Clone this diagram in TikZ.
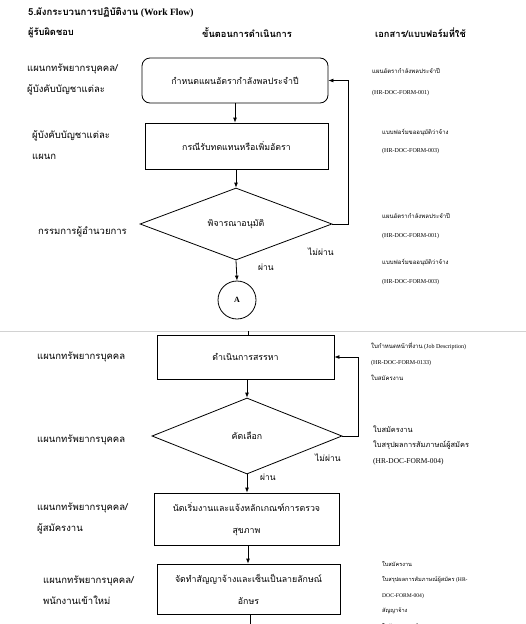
\documentclass[tikz,border=0pt]{standalone}
\usepackage{fontspec}
\setmainfont{Liberation Serif}
\newfontfamily\thaifont[Script=Thai]{Loma}
\newcommand{\thai}[1]{{\thaifont #1}}
\usetikzlibrary{arrows.meta,positioning,shapes.geometric}

\begin{document}
\begin{tikzpicture}[x=1pt, y=-1pt,
  every node/.style={inner sep=0pt},
  stepbox/.style={draw, line width=0.8pt, align=center, font=\thaifont\fontsize{8.8}{22}\selectfont},
  planbox/.style={stepbox, rounded corners=8pt},
  choice/.style={stepbox, diamond},
  joint/.style={draw, circle, line width=0.8pt, minimum size=38pt, font=\bfseries\fontsize{8}{8}\selectfont},
  owner/.style={anchor=west, align=left, font=\thaifont\fontsize{9.5}{21}\selectfont},
  docs/.style={anchor=west, align=left, font=\fontsize{6}{19}\selectfont},
  head/.style={anchor=west, font=\bfseries\fontsize{9.3}{10}\selectfont},
  note/.style={anchor=west, font=\thaifont\fontsize{8.5}{10}\selectfont},
  flow/.style={line width=0.8pt, -{Latex[length=5pt,width=4pt]}}
]
\useasboundingbox (0,0) rectangle (526,624);
\clip (0,0) rectangle (526,624);

% heading and column titles
\node[head, font=\bfseries\fontsize{9.6}{10}\selectfont] (title) at (28,13) {\thai{5.ผังกระบวนการปฏิบัติงาน} (Work Flow)};
\node[head] (hOwner) at (28,33) {\thai{ผู้รับผิดชอบ}};
\node[head] (hStep)  at (202,33) {\thai{ขั้นตอนการดำเนินการ}};
\node[head] (hDocs)  at (375,33) {\thai{เอกสาร/แบบฟอร์มที่ใช้}};

% page 1 - flow column
\node[planbox, minimum width=186pt, minimum height=45pt] (plan) at (235,80.5) {กำหนดแผนอัตรากำลังพลประจำปี};
\node[stepbox, minimum width=183pt, minimum height=46pt] (repl) at (236.5,146) {กรณีรับทดแทนหรือเพิ่มอัตรา};
\node[choice, minimum width=192pt, minimum height=72pt] (appr) at (236,224) {พิจารณาอนุมัติ};
\node[joint] (conA) at (237,300) {A};

\draw[flow] (plan.south) -- (plan.south |- repl.north);
\draw[flow] (repl.south -| appr.north) -- (appr.north);
\draw[flow] (appr.east) -- ++(16,0) |- (plan.east);
\draw[flow] (appr.south) -- (conA.north);
\node[note] (noA) at (308,252) {ไม่ผ่าน};
\node[note] (okA) at (258,267) {ผ่าน};

% page 1 - owners
\node[owner] (oPlan) at (27,79.5) {แผนกทรัพยากรบุคคล/\\ผู้บังคับบัญชาแต่ละ};
\node[owner] (oRepl) at (32,145) {ผู้บังคับบัญชาแต่ละ\\แผนก};
\node[owner] (oAppr) at (38,232) {กรรมการผู้อำนวยการ};

% page 1 - documents
\node[docs, font=\fontsize{6}{21}\selectfont] (dPlan) at (372,82.5) {\thai{แผนอัตรากำลังพลประจำปี}\\(HR-DOC-FORM-001)};
\node[docs, font=\fontsize{6}{18}\selectfont] (dRepl) at (382,141.5) {\thai{แบบฟอร์มขออนุมัติว่าจ้าง}\\(HR-DOC-FORM-003)};
\node[docs] (dAppr1) at (382,226.5) {\thai{แผนอัตรากำลังพลประจำปี}\\(HR-DOC-FORM-001)};
\node[docs] (dAppr2) at (382,272.5) {\thai{แบบฟอร์มขออนุมัติว่าจ้าง}\\(HR-DOC-FORM-003)};

% page break
\draw[gray!35, line width=1pt] (0,331) -- (526,331);

% page 2 - flow column
\coordinate (pgtop) at (248,331);
\node[stepbox, minimum width=177pt, minimum height=44pt] (recruit) at (245.5,357) {ดำเนินการสรรหา};
\node[choice, minimum width=190pt, minimum height=76pt] (select) at (247,436) {คัดเลือก};
\node[stepbox, minimum width=185pt, minimum height=52pt] (appoint) at (246.5,519) {นัดเริ่มงานและแจ้งหลักเกณฑ์การตรวจ\\สุขภาพ};
\node[stepbox, minimum width=183pt, minimum height=50pt] (contract) at (248.5,589) {จัดทำสัญญาจ้างและเซ็นเป็นลายลักษณ์\\อักษร};
\coordinate (pgend) at (250,630);

\draw[line width=0.8pt] (pgtop) -- (pgtop |- recruit.north);
\draw[flow] (select.north |- recruit.south) -- (select.north);
\draw[flow] (select.east) -- ++(16,0) |- (recruit.east);
\draw[flow] (select.south) -- (select.south |- appoint.north);
\draw[flow] (appoint.south -| pgtop) -- (pgtop |- contract.north);
\draw[line width=0.8pt] (contract.south -| pgend) -- (pgend);
\node[note] (noB) at (315,458) {ไม่ผ่าน};
\node[note] (okB) at (260,477) {ผ่าน};

% page 2 - owners
\node[owner] (oRecruit) at (37,357) {แผนกทรัพยากรบุคคล};
\node[owner] (oSelect) at (37,440) {แผนกทรัพยากรบุคคล};
\node[owner] (oAppoint) at (37,518) {แผนกทรัพยากรบุคคล/\\ผู้สมัครงาน};
\node[owner] (oContract) at (43,590) {แผนกทรัพยากรบุคคล/\\พนักงานเข้าใหม่};

% page 2 - documents
\node[docs, font=\fontsize{6}{16}\selectfont] (dRecruit) at (371,361) {\thai{ใบกำหนดหน้าที่งาน} (Job Description)\\(HR-DOC-FORM-0133)\\\thai{ใบสมัครงาน}};
\node[docs, font=\fontsize{7.4}{15.5}\selectfont] (dSelect) at (373,445) {\thai{ใบสมัครงาน}\\\thai{ใบสรุปผลการสัมภาษณ์ผู้สมัคร}\\(HR-DOC-FORM-004)};
\node[docs, font=\fontsize{5.6}{15.5}\selectfont] (dContract) at (382,594.5) {\thai{ใบสมัครงาน}\\\thai{ใบสรุปผลการสัมภาษณ์ผู้สมัคร} (HR-\\DOC-FORM-004)\\\thai{สัญญาจ้าง}\\\thai{ใบรับรองแพทย์}};
\end{tikzpicture}
\end{document}
